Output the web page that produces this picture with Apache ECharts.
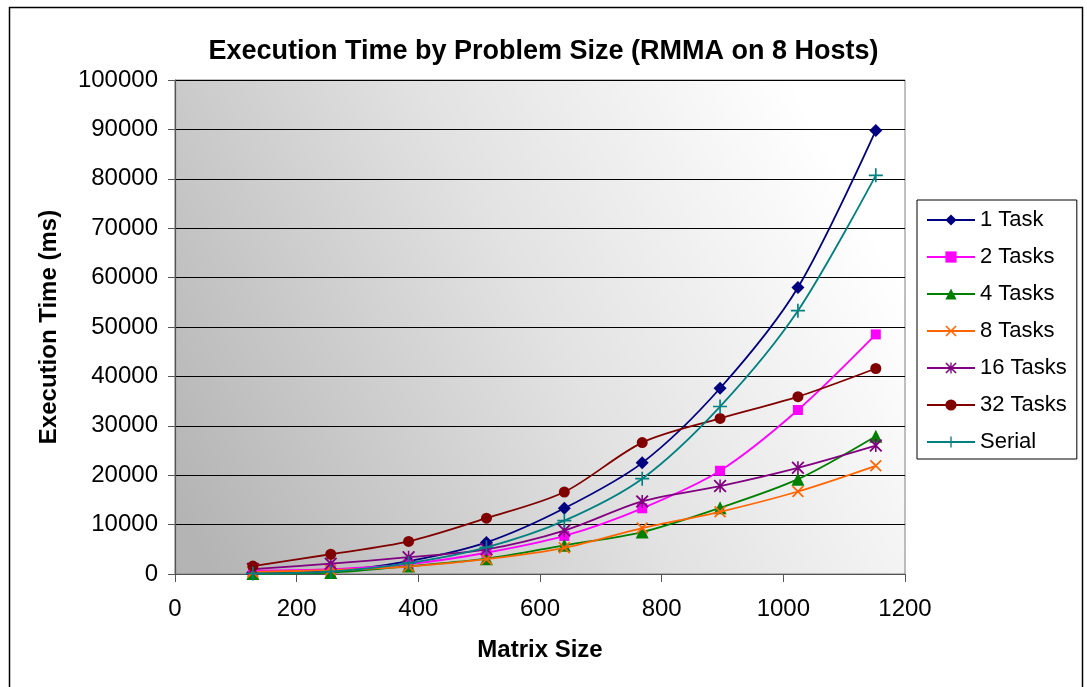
<!DOCTYPE html>
<html>
<head>
<meta charset="utf-8">
<script src="https://cdn.jsdelivr.net/npm/echarts@6/dist/echarts.min.js"></script>
<style>
html,body{margin:0;padding:0;background:#fff;}
#chart{width:1087px;height:687px;}
</style>
</head>
<body>
<div id="chart"></div>
<script>
const sizes = [128, 256, 384, 512, 640, 768, 896, 1024, 1152];
const seriesNames = ['1 Task', '2 Tasks', '4 Tasks', '8 Tasks', '16 Tasks', '32 Tasks', 'Serial'];
const task1 = [300, 600, 2600, 6400, 13300, 22500, 37600, 58000, 89800];
const task2 = [700, 1000, 2000, 4300, 7700, 13300, 20900, 33200, 48500];
const task4 = [100, 300, 1600, 3100, 5800, 8500, 13400, 19200, 27900];
const task8 = [400, 800, 1500, 3000, 5300, 9300, 12600, 16700, 21900];
const task16 = [1000, 2100, 3400, 5000, 8800, 14700, 17800, 21500, 26000];
const task32 = [1600, 4000, 6600, 11300, 16600, 26600, 31500, 35900, 41600];
const serial = [100, 500, 2200, 5400, 10800, 19300, 33900, 53300, 80700];

const values = [task1, task2, task4, task8, task16, task32, serial];
const colors = ['#000080', '#FF00FF', '#008000', '#FF6600', '#800080', '#800000', '#008080'];
const X_PATH = 'path://M0,1 L1,0 L5,4 L9,0 L10,1 L6,5 L10,9 L9,10 L5,6 L1,10 L0,9 L4,5 Z';
const AST_PATH = 'path://M0,1 L1,0 L5,4 L9,0 L10,1 L6,5 L10,9 L9,10 L5,6 L1,10 L0,9 L4,5 Z M4.4,0 L5.6,0 L5.6,10 L4.4,10 Z';
const PLUS_PATH = 'path://M4.4,0 L5.6,0 L5.6,4.4 L10,4.4 L10,5.6 L5.6,5.6 L5.6,10 L4.4,10 L4.4,5.6 L0,5.6 L0,4.4 L4.4,4.4 Z';
const symbols = ['diamond', 'rect', 'triangle', X_PATH, AST_PATH, 'circle', PLUS_PATH];
const symbolSizes = [13, 10, 13, 12, 13, 11, 14];

const FONT = '"Liberation Sans", Arial, sans-serif';

const chart = echarts.init(document.getElementById('chart'), null, {renderer: 'canvas'});

const series = seriesNames.map((name, i) => ({
  name: name,
  type: 'line',
  data: sizes.map((s, j) => [s, values[i][j]]),
  smooth: 0.3,
  symbol: symbols[i],
  symbolSize: symbolSizes[i],
  showAllSymbol: true,
  lineStyle: {color: colors[i], width: 1.8},
  itemStyle: {color: colors[i], borderWidth: 0},
  emphasis: {disabled: true},
  z: 3 + i
}));

chart.setOption({
  animation: false,
  backgroundColor: '#ffffff',
  title: {
    text: 'Execution Time by Problem Size (RMMA on 8 Hosts)',
    left: 'center',
    top: 33,
    textStyle: {fontFamily: FONT, fontSize: 27, fontWeight: 'bold', color: '#000'}
  },
  graphic: [{
    type: 'rect',
    shape: {x: 9.5, y: 7.5, width: 1073, height: 700},
    style: {fill: 'none', stroke: '#000', lineWidth: 1.5},
    z: 0
  }],
  grid: {
    left: 175, right: 182, top: 80, bottom: 113,
    show: true,
    borderColor: '#808080',
    borderWidth: 1,
    backgroundColor: {
      type: 'linear', x: 0, y: 0.85, x2: 0.9, y2: 0.15,
      colorStops: [
        {offset: 0, color: '#b4b4b4'},
        {offset: 0.55, color: '#e2e2e2'},
        {offset: 1, color: '#ffffff'}
      ]
    }
  },
  legend: {
    orient: 'vertical',
    left: 917,
    top: 200,
    padding: [9, 10, 6, 9],
    itemWidth: 48,
    itemHeight: 14,
    itemGap: 15,
    borderColor: '#000',
    borderWidth: 1,
    backgroundColor: '#fff',
    textStyle: {fontFamily: FONT, fontSize: 22, color: '#000'},
    data: seriesNames
  },
  xAxis: {
    type: 'value',
    min: 0, max: 1200, interval: 200,
    name: 'Matrix Size',
    nameLocation: 'middle',
    nameGap: 64,
    nameTextStyle: {fontFamily: FONT, fontSize: 24, fontWeight: 'bold', color: '#000'},
    axisLine: {show: true, lineStyle: {color: '#555', width: 1.2}},
    axisTick: {show: true, length: 8, inside: false, lineStyle: {color: '#555'}},
    axisLabel: {fontFamily: FONT, fontSize: 24, color: '#000', margin: 23, formatter: v => String(v)},
    splitLine: {show: false}
  },
  yAxis: {
    type: 'value',
    min: 0, max: 100000, interval: 10000,
    name: 'Execution Time (ms)',
    nameLocation: 'middle',
    nameGap: 114,
    nameTextStyle: {fontFamily: FONT, fontSize: 24, fontWeight: 'bold', color: '#000'},
    axisLine: {show: true, lineStyle: {color: '#555', width: 1.2}},
    axisTick: {show: true, length: 7, inside: false, lineStyle: {color: '#555'}},
    axisLabel: {fontFamily: FONT, fontSize: 24, color: '#000', margin: 17, formatter: v => String(v)},
    splitLine: {show: true, lineStyle: {color: '#000', width: 1}}
  },
  series: series
});
</script>
</body>
</html>
